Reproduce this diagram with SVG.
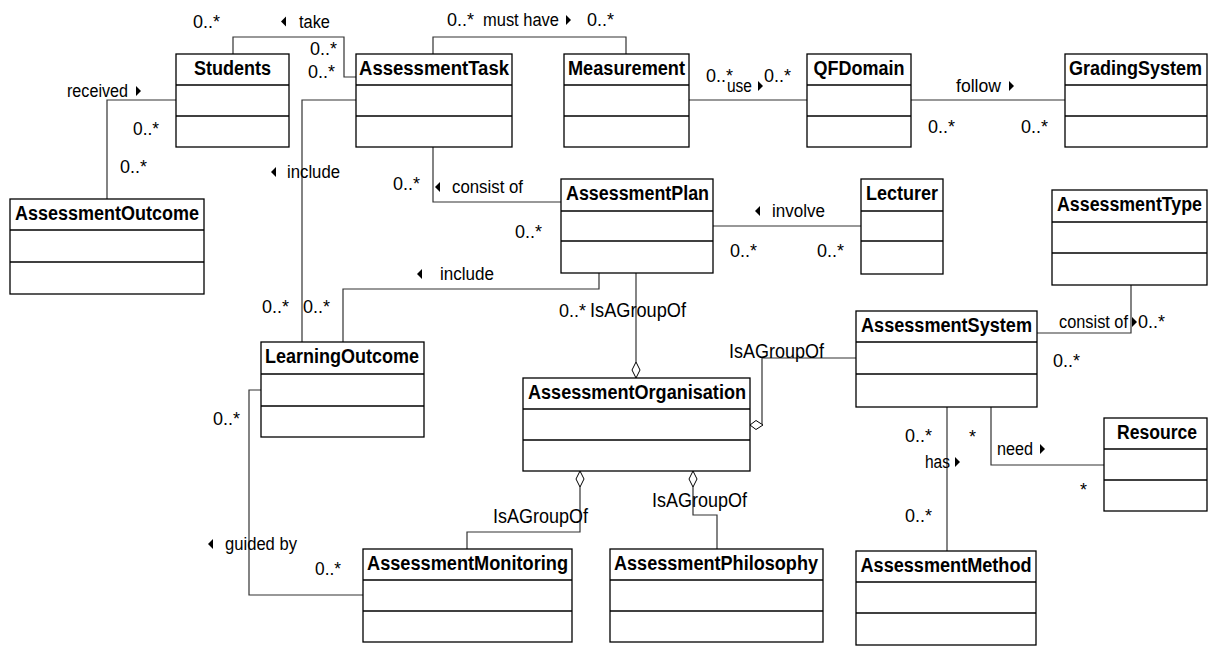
<svg xmlns="http://www.w3.org/2000/svg" width="1208" height="646" viewBox="0 0 1208 646">
<style>
.box{fill:#fff;stroke:#000;stroke-width:1.3}
.div{stroke:#000;stroke-width:1.3}
.name{font-family:"Liberation Sans",Arial,sans-serif;font-weight:bold;font-size:20px;fill:#000;text-anchor:middle}
.lbl{font-family:"Liberation Sans",Arial,sans-serif;font-size:18px;fill:#000}
.grp{font-family:"Liberation Sans",Arial,sans-serif;font-size:20px;fill:#000}
.con{fill:none;stroke:#333;stroke-width:1.2}
.dia{fill:#fff;stroke:#000;stroke-width:1}
.tri{fill:#000}
</style>
<g id="connectors">
<path class="con" d="M233,54 V37 H344 V77 H356"/>
<path class="con" d="M176,100 H107 V199"/>
<path class="con" d="M356,100 H302 V342"/>
<path class="con" d="M433,54 V37 H626 V54"/>
<path class="con" d="M689,100 H807"/>
<path class="con" d="M911,100 H1065"/>
<path class="con" d="M433,147 V202 H561"/>
<path class="con" d="M713,226 H861"/>
<path class="con" d="M343,342 V289 H599 V273"/>
<path class="con" d="M636,273 V362"/>
<polygon class="dia" points="636,362 640,370 636,378 632,370"/>
<path class="con" d="M856,358 H762 V425"/>
<polygon class="dia" points="750,425 756,420.5 763,425 756,429.5"/>
<path class="con" d="M1037,333 H1131 V285"/>
<path class="con" d="M580,487 V532 H467 V549"/>
<polygon class="dia" points="580,471 584,479 580,487 576,479"/>
<path class="con" d="M693,487 V515 H717 V549"/>
<polygon class="dia" points="693,471 697,479 693,487 689,479"/>
<path class="con" d="M261,390 H249 V595 H363"/>
<path class="con" d="M947,407 V551"/>
<path class="con" d="M991,407 V465 H1104"/>
</g>
<g id="labels">
<text class="lbl" x="193" y="28" textLength="27" lengthAdjust="spacingAndGlyphs">0..*</text>
<polygon class="tri" points="281,21.5 286,16.5 286,26.5"/>
<text class="lbl" x="299" y="28" textLength="31" lengthAdjust="spacingAndGlyphs">take</text>
<text class="lbl" x="310" y="55" textLength="27" lengthAdjust="spacingAndGlyphs">0..*</text>
<text class="lbl" x="308" y="78" textLength="27" lengthAdjust="spacingAndGlyphs">0..*</text>
<text class="lbl" x="67" y="97" textLength="61" lengthAdjust="spacingAndGlyphs">received</text>
<polygon class="tri" points="136,86 141,91 136,96"/>
<text class="lbl" x="133" y="135" textLength="26" lengthAdjust="spacingAndGlyphs">0..*</text>
<text class="lbl" x="120" y="173" textLength="27" lengthAdjust="spacingAndGlyphs">0..*</text>
<polygon class="tri" points="271,172 276,167 276,177"/>
<text class="lbl" x="287" y="178" textLength="53" lengthAdjust="spacingAndGlyphs">include</text>
<text class="lbl" x="393" y="190" textLength="27" lengthAdjust="spacingAndGlyphs">0..*</text>
<text class="lbl" x="447" y="26" textLength="27" lengthAdjust="spacingAndGlyphs">0..*</text>
<text class="lbl" x="483" y="26" textLength="76" lengthAdjust="spacingAndGlyphs">must have</text>
<polygon class="tri" points="566,15 571,20 566,25"/>
<text class="lbl" x="587" y="26" textLength="27" lengthAdjust="spacingAndGlyphs">0..*</text>
<text class="lbl" x="706" y="82" textLength="27" lengthAdjust="spacingAndGlyphs">0..*</text>
<text class="lbl" x="727" y="92" textLength="25" lengthAdjust="spacingAndGlyphs">use</text>
<polygon class="tri" points="758,81 763,86 758,91"/>
<text class="lbl" x="764" y="82" textLength="27" lengthAdjust="spacingAndGlyphs">0..*</text>
<polygon class="tri" points="435,187 440,182 440,192"/>
<text class="lbl" x="452" y="193" textLength="71" lengthAdjust="spacingAndGlyphs">consist of</text>
<text class="lbl" x="956" y="92" textLength="45" lengthAdjust="spacingAndGlyphs">follow</text>
<polygon class="tri" points="1009,81 1014,86 1009,91"/>
<text class="lbl" x="928" y="133" textLength="27" lengthAdjust="spacingAndGlyphs">0..*</text>
<text class="lbl" x="1021" y="133" textLength="27" lengthAdjust="spacingAndGlyphs">0..*</text>
<text class="lbl" x="515" y="238" textLength="27" lengthAdjust="spacingAndGlyphs">0..*</text>
<polygon class="tri" points="755,211 760,206 760,216"/>
<text class="lbl" x="772" y="217" textLength="53" lengthAdjust="spacingAndGlyphs">involve</text>
<text class="lbl" x="730" y="257" textLength="27" lengthAdjust="spacingAndGlyphs">0..*</text>
<text class="lbl" x="817" y="257" textLength="27" lengthAdjust="spacingAndGlyphs">0..*</text>
<polygon class="tri" points="417,274 422,269 422,279"/>
<text class="lbl" x="440" y="280" textLength="54" lengthAdjust="spacingAndGlyphs">include</text>
<text class="lbl" x="559" y="317" textLength="27" lengthAdjust="spacingAndGlyphs">0..*</text>
<text class="grp" x="590" y="317" textLength="96" lengthAdjust="spacingAndGlyphs">IsAGroupOf</text>
<text class="grp" x="729" y="358" textLength="95" lengthAdjust="spacingAndGlyphs">IsAGroupOf</text>
<text class="lbl" x="262" y="313" textLength="27" lengthAdjust="spacingAndGlyphs">0..*</text>
<text class="lbl" x="303" y="313" textLength="27" lengthAdjust="spacingAndGlyphs">0..*</text>
<text class="lbl" x="1059" y="328" textLength="69" lengthAdjust="spacingAndGlyphs">consist of</text>
<polygon class="tri" points="1132,317 1137,322 1132,327"/>
<text class="lbl" x="1138" y="328" textLength="27" lengthAdjust="spacingAndGlyphs">0..*</text>
<text class="lbl" x="1053" y="367" textLength="27" lengthAdjust="spacingAndGlyphs">0..*</text>
<text class="lbl" x="213" y="425" textLength="27" lengthAdjust="spacingAndGlyphs">0..*</text>
<polygon class="tri" points="208,544 213,539 213,549"/>
<text class="lbl" x="225" y="550" textLength="72" lengthAdjust="spacingAndGlyphs">guided by</text>
<text class="lbl" x="315" y="575" textLength="26" lengthAdjust="spacingAndGlyphs">0..*</text>
<text class="grp" x="493" y="523" textLength="95" lengthAdjust="spacingAndGlyphs">IsAGroupOf</text>
<text class="grp" x="652" y="507" textLength="95" lengthAdjust="spacingAndGlyphs">IsAGroupOf</text>
<text class="lbl" x="905" y="442" textLength="27" lengthAdjust="spacingAndGlyphs">0..*</text>
<text class="lbl" x="969" y="443">*</text>
<text class="lbl" x="925" y="468" textLength="25" lengthAdjust="spacingAndGlyphs">has</text>
<polygon class="tri" points="955,457 960,462 955,467"/>
<text class="lbl" x="997" y="455" textLength="36" lengthAdjust="spacingAndGlyphs">need</text>
<polygon class="tri" points="1040,444 1045,449 1040,454"/>
<text class="lbl" x="1080" y="496">*</text>
<text class="lbl" x="905" y="522" textLength="27" lengthAdjust="spacingAndGlyphs">0..*</text>
</g>
<g id="Students"><rect class="box" x="176" y="54" width="113" height="93"/><line class="div" x1="176" y1="85" x2="289" y2="85"/><line class="div" x1="176" y1="116" x2="289" y2="116"/><text class="name" x="232.5" y="75" textLength="77" lengthAdjust="spacingAndGlyphs">Students</text></g>
<g id="AssessmentTask"><rect class="box" x="356" y="54" width="156" height="93"/><line class="div" x1="356" y1="85" x2="512" y2="85"/><line class="div" x1="356" y1="116" x2="512" y2="116"/><text class="name" x="434" y="75" textLength="150" lengthAdjust="spacingAndGlyphs">AssessmentTask</text></g>
<g id="Measurement"><rect class="box" x="564" y="54" width="125" height="93"/><line class="div" x1="564" y1="85" x2="689" y2="85"/><line class="div" x1="564" y1="116" x2="689" y2="116"/><text class="name" x="626.5" y="75" textLength="117" lengthAdjust="spacingAndGlyphs">Measurement</text></g>
<g id="QFDomain"><rect class="box" x="807" y="54" width="104" height="93"/><line class="div" x1="807" y1="85" x2="911" y2="85"/><line class="div" x1="807" y1="116" x2="911" y2="116"/><text class="name" x="859" y="75" textLength="91" lengthAdjust="spacingAndGlyphs">QFDomain</text></g>
<g id="GradingSystem"><rect class="box" x="1065" y="54" width="142" height="93"/><line class="div" x1="1065" y1="85" x2="1207" y2="85"/><line class="div" x1="1065" y1="116" x2="1207" y2="116"/><text class="name" x="1135.5" y="75" textLength="133" lengthAdjust="spacingAndGlyphs">GradingSystem</text></g>
<g id="AssessmentOutcome"><rect class="box" x="10" y="199" width="194" height="95"/><line class="div" x1="10" y1="230" x2="204" y2="230"/><line class="div" x1="10" y1="262" x2="204" y2="262"/><text class="name" x="107" y="220" textLength="184" lengthAdjust="spacingAndGlyphs">AssessmentOutcome</text></g>
<g id="AssessmentPlan"><rect class="box" x="561" y="179" width="152" height="94"/><line class="div" x1="561" y1="211" x2="713" y2="211"/><line class="div" x1="561" y1="241" x2="713" y2="241"/><text class="name" x="637.5" y="200" textLength="143" lengthAdjust="spacingAndGlyphs">AssessmentPlan</text></g>
<g id="Lecturer"><rect class="box" x="861" y="179" width="82" height="95"/><line class="div" x1="861" y1="211" x2="943" y2="211"/><line class="div" x1="861" y1="241" x2="943" y2="241"/><text class="name" x="902" y="200" textLength="72" lengthAdjust="spacingAndGlyphs">Lecturer</text></g>
<g id="AssessmentType"><rect class="box" x="1052" y="190" width="155" height="95"/><line class="div" x1="1052" y1="222" x2="1207" y2="222"/><line class="div" x1="1052" y1="253" x2="1207" y2="253"/><text class="name" x="1129.5" y="211" textLength="145" lengthAdjust="spacingAndGlyphs">AssessmentType</text></g>
<g id="LearningOutcome"><rect class="box" x="261" y="342" width="163" height="95"/><line class="div" x1="261" y1="374" x2="424" y2="374"/><line class="div" x1="261" y1="406" x2="424" y2="406"/><text class="name" x="342" y="363" textLength="154" lengthAdjust="spacingAndGlyphs">LearningOutcome</text></g>
<g id="AssessmentSystem"><rect class="box" x="856" y="311" width="181" height="96"/><line class="div" x1="856" y1="342" x2="1037" y2="342"/><line class="div" x1="856" y1="374" x2="1037" y2="374"/><text class="name" x="946.5" y="332" textLength="171" lengthAdjust="spacingAndGlyphs">AssessmentSystem</text></g>
<g id="AssessmentOrganisation"><rect class="box" x="523" y="378" width="227" height="93"/><line class="div" x1="523" y1="409" x2="750" y2="409"/><line class="div" x1="523" y1="440" x2="750" y2="440"/><text class="name" x="637" y="399" textLength="218" lengthAdjust="spacingAndGlyphs">AssessmentOrganisation</text></g>
<g id="Resource"><rect class="box" x="1104" y="418" width="103" height="93"/><line class="div" x1="1104" y1="449" x2="1207" y2="449"/><line class="div" x1="1104" y1="480" x2="1207" y2="480"/><text class="name" x="1157" y="439" textLength="80" lengthAdjust="spacingAndGlyphs">Resource</text></g>
<g id="AssessmentMonitoring"><rect class="box" x="363" y="549" width="209" height="93"/><line class="div" x1="363" y1="580" x2="572" y2="580"/><line class="div" x1="363" y1="611" x2="572" y2="611"/><text class="name" x="467.5" y="570" textLength="201" lengthAdjust="spacingAndGlyphs">AssessmentMonitoring</text></g>
<g id="AssessmentPhilosophy"><rect class="box" x="610" y="549" width="213" height="93"/><line class="div" x1="610" y1="580" x2="823" y2="580"/><line class="div" x1="610" y1="611" x2="823" y2="611"/><text class="name" x="716" y="570" textLength="204" lengthAdjust="spacingAndGlyphs">AssessmentPhilosophy</text></g>
<g id="AssessmentMethod"><rect class="box" x="856" y="551" width="180" height="94"/><line class="div" x1="856" y1="582" x2="1036" y2="582"/><line class="div" x1="856" y1="613" x2="1036" y2="613"/><text class="name" x="946" y="572" textLength="171" lengthAdjust="spacingAndGlyphs">AssessmentMethod</text></g>
</svg>
